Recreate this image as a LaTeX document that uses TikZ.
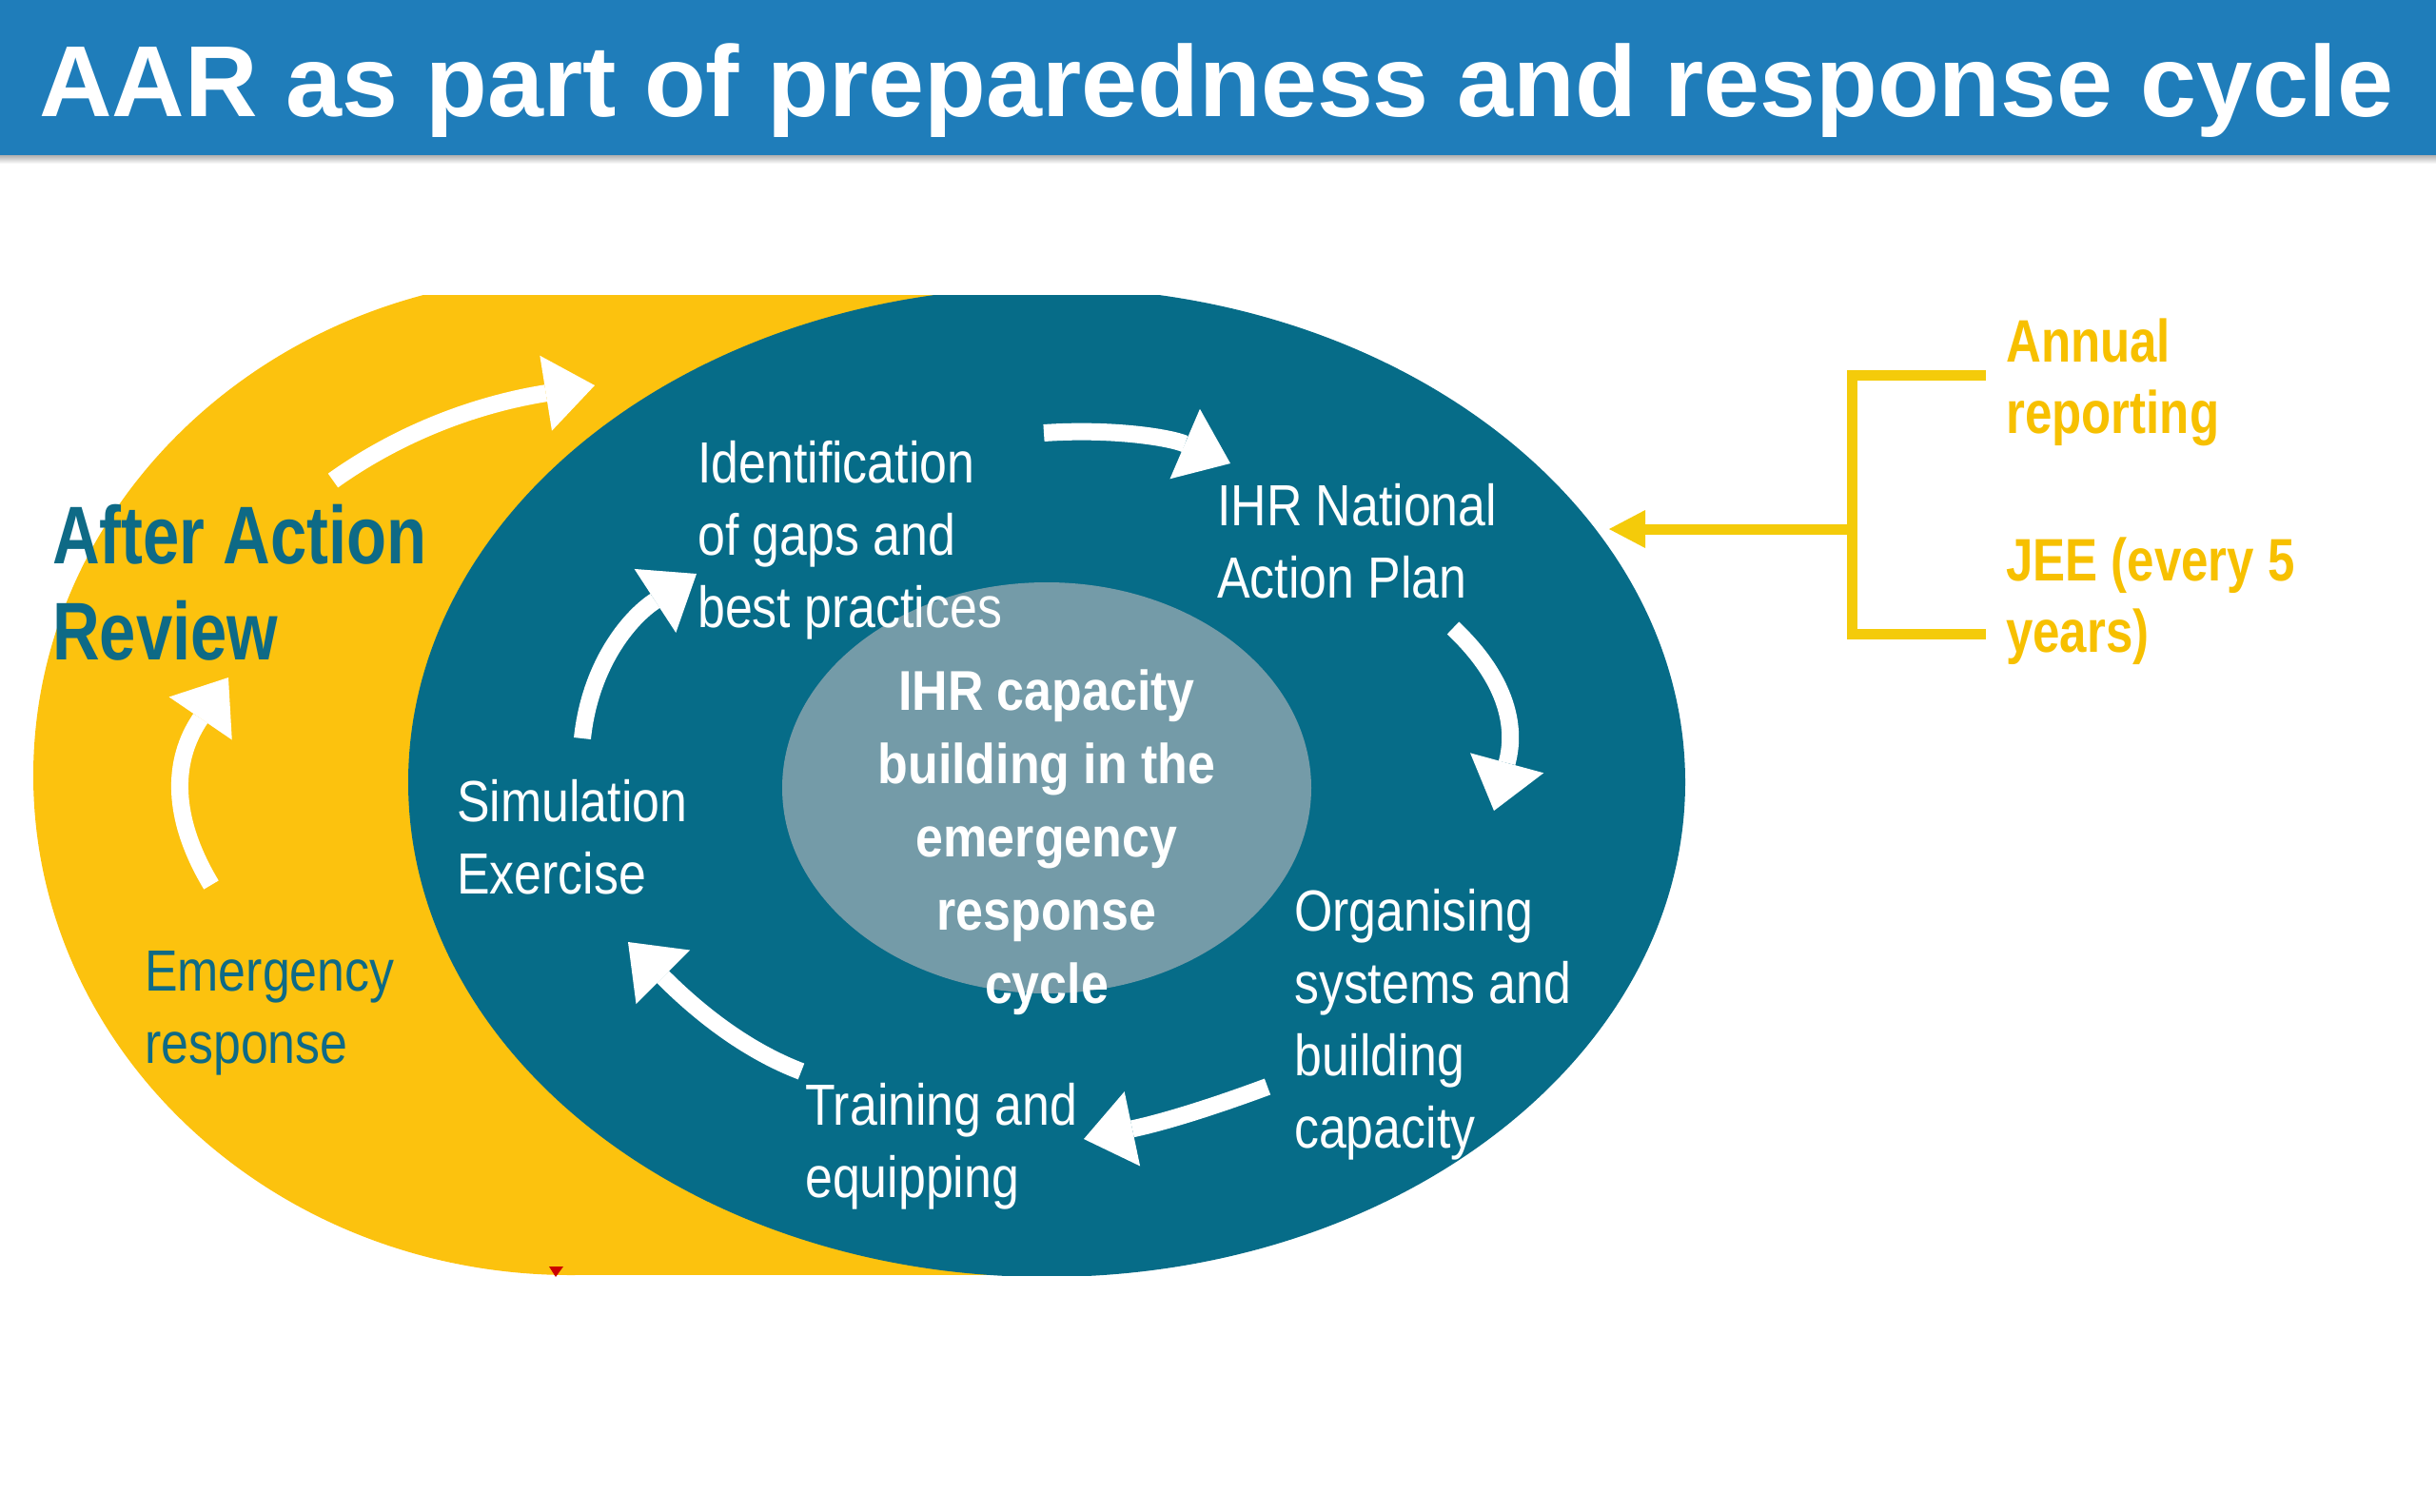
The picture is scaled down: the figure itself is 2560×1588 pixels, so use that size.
\documentclass[tikz,border=0pt]{standalone}
\usepackage{fontspec}
\setmainfont{Liberation Sans}
\newfontfamily\titlefont{Liberation Sans Bold}
\newfontfamily\aarfont{Liberation Sans Bold}[FakeStretch=0.80]
\newfontfamily\corefont{Liberation Sans Bold}[FakeStretch=0.88]
\newfontfamily\repfont{Liberation Sans Bold}[FakeStretch=0.81]
\newfontfamily\stepfont{Liberation Sans}[FakeStretch=0.85]
\usetikzlibrary{arrows.meta,positioning}

\definecolor{titleblue}{RGB}{31,125,186}
\definecolor{aaryellow}{RGB}{252,194,14}
\definecolor{cycleteal}{RGB}{6,108,136}
\definecolor{coregrey}{RGB}{116,155,168}
\definecolor{aarteal}{RGB}{14,106,134}
\definecolor{repyellow}{RGB}{247,192,0}
\definecolor{bracketyellow}{RGB}{244,203,10}

\tikzset{
  steplabel/.style={font=\stepfont\fontsize{61}{76}\selectfont, text=white,
    align=left, inner sep=0pt, anchor=base west},
  wharrow/.style={draw=white, line width=18pt,
    -{Triangle[width=80pt,length=52pt,line width=0pt]}},
  bracketline/.style={draw=bracketyellow, line width=11pt, line join=miter}
}

\begin{document}
\begin{tikzpicture}[x=1pt, y=-1pt]
\useasboundingbox (0,0) rectangle (2560,1588);

% title bar
\shade[top color=black!35, bottom color=white] (0,162) rectangle (2560,172);
\fill[titleblue] (0,0) rectangle (2560,163);
\node[font=\titlefont\fontsize{106}{120}\selectfont, text=white, inner sep=0pt,
  anchor=base west] (title) at (41,122) {AAR as part of preparedness and response cycle};

% the two cycles, cut off top and bottom
\begin{scope}
  \clip (0,310) rectangle (2560,1340);
  \fill[aaryellow] (600,815) ellipse [x radius=565pt, y radius=525pt];
  \fill[aaryellow] (600,290) rectangle (1100,1340);
  \fill[cycleteal] (1100,822) ellipse [x radius=671pt, y radius=520pt];
\end{scope}
\fill[coregrey] (1100,828) ellipse [x radius=278pt, y radius=216pt];
\fill[red!80!black] (577,1331) -- (592,1331) -- (584,1342) -- cycle;

% arrow ends
\coordinate (aarA) at (350,505);   \coordinate (aarB) at (625,405);
\coordinate (emA) at (222,930);    \coordinate (emB) at (240,712);
\coordinate (simA) at (612,776);   \coordinate (simB) at (732,603);
\coordinate (idA) at (1097,455);   \coordinate (idB) at (1293,487);
\coordinate (napA) at (1527,660);  \coordinate (napB) at (1570,852);
\coordinate (orgA) at (1332,1142); \coordinate (orgB) at (1139,1197);
\coordinate (trA) at (842,1126);   \coordinate (trB) at (660,990);

\draw[wharrow] (aarA) .. controls (420,455) and (500,425) .. (aarB);
\draw[wharrow] (emA) .. controls (180,860) and (180,800) .. (emB);
\draw[wharrow] (simA) .. controls (620,700) and (660,650) .. (simB);
\draw[wharrow] (idA) .. controls (1170,450) and (1230,460) .. (idB);
\draw[wharrow] (napA) .. controls (1580,710) and (1595,760) .. (napB);
\draw[wharrow] (orgA) .. controls (1270,1165) and (1220,1180) .. (orgB);
\draw[wharrow] (trA) .. controls (800,1110) and (750,1080) .. (trB);

% labels (anchored at the baseline of their last line)
\node[font=\aarfont\fontsize{86}{101}\selectfont, text=aarteal, align=left,
  inner sep=0pt, anchor=base west] (aar) at (55,693) {After Action\\Review};
\node[steplabel, text=aarteal] (emerg) at (152,1117) {Emergency\\response};
\node[steplabel] (ident) at (733,659) {Identification\\of gaps and\\best practices};
\node[steplabel] (nap) at (1279,628) {IHR National\\Action Plan};
\node[steplabel] (simex) at (480,939) {Simulation\\Exercise};
\node[steplabel] (organ) at (1360,1206) {Organising\\systems and\\building\\capacity};
\node[steplabel] (train) at (846,1258) {Training and\\equipping};
\node[font=\corefont\fontsize{59}{77}\selectfont, text=white, align=center,
  inner sep=0pt, anchor=base] (core) at (1100,1054)
  {IHR capacity\\building in the\\emergency\\response\\cycle};

% reporting bracket
\node[font=\repfont\fontsize{63}{75}\selectfont, text=repyellow, align=left,
  inner sep=0pt, anchor=base west] (annual) at (2108,455) {Annual\\reporting};
\node[font=\repfont\fontsize{63}{75}\selectfont, text=repyellow, align=left,
  inner sep=0pt, anchor=base west] (jee) at (2108,685) {JEE (every 5\\years)};
\coordinate (brTop) at (2087,394);
\coordinate (brBot) at (2087,666);
\coordinate (brMid) at (1946,556);
\coordinate (brTip) at (1691,556);
\draw[bracketline] (brTop) -- (1946,394) -- (1946,666) -- (brBot);
\draw[bracketline, -{Triangle[width=40pt,length=38pt,line width=0pt]}] (brMid) -- (brTip);
\end{tikzpicture}
\end{document}
